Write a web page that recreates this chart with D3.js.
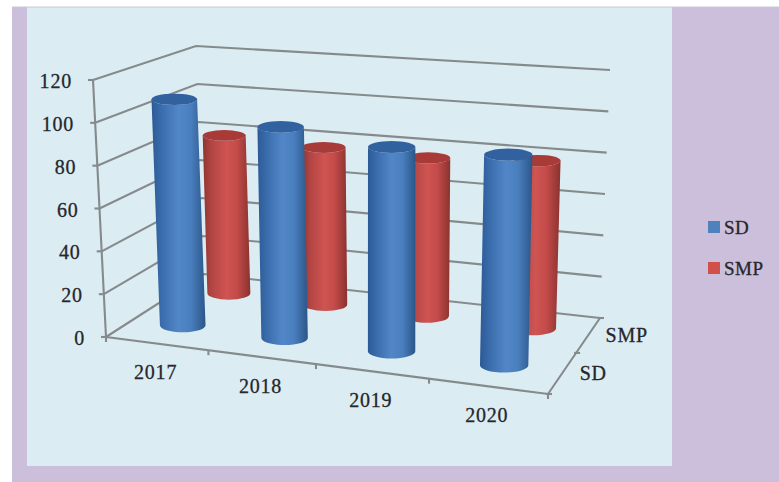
<!DOCTYPE html>
<html>
<head>
<meta charset="utf-8">
<script src="https://cdn.jsdelivr.net/npm/d3@7"></script>
<style>
  html, body { margin: 0; padding: 0; background: #ffffff; }
  svg { display: block; }
  text { font-family: "Liberation Serif", serif; fill: #26262b; stroke: #26262b; stroke-width: 0.3px; }
</style>
</head>
<body>
<svg id="chart" width="779" height="482"></svg>
<script>
// Chart values
const categories = ["2017", "2018", "2019", "2020"];
const seriesNames = ["SD", "SMP"];
const sdValues = [108, 99, 94, 95];
const smpValues = [80, 78, 77, 80];
const valueTicks = [0, 20, 40, 60, 80, 100, 120];

// Corners of the 3D plot box on screen
const box = {
  flb: [106, 337], flt: [93, 80],
  frb: [548, 394], frt: [555, 117],
  blb: [204, 274], blt: [196, 46],
  brb: [600, 318], brt: [610, 70]
};

// Foreshortening along the width and depth of the box
const foreshorten = k => t => t / (t + k * (1 - t));
const warpX = foreshorten(1.105);
const warpZ = foreshorten(0.85);

const valueScale = d3.scaleLinear().domain([0, 120]).range([0, 1]);
const categoryScale = d3.scaleBand().domain(categories).range([0, 1]);
const depthScale = d3.scaleBand().domain(seriesNames).range([0, 1]);

const mix = (a, b, t) => [a[0] + (b[0] - a[0]) * t, a[1] + (b[1] - a[1]) * t];

// Project box coordinates (width, depth, height, all 0..1) to the screen
function project(u, v, w) {
  const x = warpX(u), z = warpZ(v);
  const bottom = mix(mix(box.flb, box.frb, x), mix(box.blb, box.brb, x), z);
  const top = mix(mix(box.flt, box.frt, x), mix(box.blt, box.brt, x), z);
  return mix(bottom, top, w);
}

const svg = d3.select("#chart");

// Backgrounds
svg.append("rect").attr("x", 12).attr("y", 7).attr("width", 767).attr("height", 475).attr("fill", "#cbbfdb");
svg.append("rect").attr("x", 27).attr("y", 7).attr("width", 645).attr("height", 459).attr("fill", "#dbedf3");
svg.append("line").attr("x1", 12).attr("x2", 779).attr("y1", 7).attr("y2", 7).attr("stroke", "#c6cad6").attr("stroke-width", 1);

// Cylinder shading
const defs = svg.append("defs");
function addGradient(id, stops) {
  const g = defs.append("linearGradient").attr("id", id).attr("x1", 0).attr("x2", 1).attr("y1", 0).attr("y2", 0);
  stops.forEach(([o, c]) => g.append("stop").attr("offset", o).attr("stop-color", c));
}
addGradient("shade-SD", [[0, "#2b5a96"], [0.18, "#3a6cab"], [0.5, "#5187c8"], [0.72, "#4a7fbf"], [1, "#2b5688"]]);
addGradient("shade-SMP", [[0, "#8f3431"], [0.18, "#b24543"], [0.5, "#cf5452"], [0.72, "#c34b49"], [1, "#8a322f"]]);
const capColor = { SD: "#32619f", SMP: "#a83a38" };
const legendColor = { SD: "#4f81bd", SMP: "#d0504a" };

// Gridlines and axes
const gridColor = "#868a8c";
const grid = svg.append("g").attr("fill", "none").attr("stroke", gridColor).attr("stroke-width", 2.1);
const line = d3.line();

valueTicks.forEach(t => {
  const w = valueScale(t);
  grid.append("path").attr("d", line([project(0, 0, w), project(0, 1, w), project(1, 1, w)]));
  const p = project(0, 0, w);
  grid.append("path").attr("d", line([[p[0] - 5, p[1]], p]));
});

// Vertical value axis
grid.append("path").attr("d", line([project(0, 0, 0), project(0, 0, 1)]));

// Floor edges and their ticks
grid.append("path").attr("d", line([project(0, 0, 0), project(1, 0, 0), project(1, 1, 0)]));
d3.range(0, categories.length + 1).forEach(i => {
  const p = project(i / categories.length, 0, 0);
  grid.append("path").attr("d", line([p, [p[0], p[1] + 5]]));
});
d3.range(0, seriesNames.length + 1).forEach(i => {
  const p = project(1, i / seriesNames.length, 0);
  grid.append("path").attr("d", line([[p[0] - 2, p[1]], [p[0] + 4, p[1]]]));
});

// Vertical pixels per value unit at a floor position, used for the cylinder radius
function unitHeight(u, v) {
  return (project(u, v, 0)[1] - project(u, v, valueScale(1))[1]);
}

function drawCylinder(group, category, series, value) {
  const u = categoryScale(category) + categoryScale.bandwidth() / 2;
  const v = depthScale(series) + depthScale.bandwidth() / 2;
  const base = project(u, v, 0);
  const top = project(u, v, valueScale(value));
  const rx = unitHeight(u, v) * 10.9;
  const ryTop = rx * 0.25;
  const ryBase = rx * 0.3;
  const g = group.append("g");
  g.append("path")
    .attr("d", `M${top[0] - rx},${top[1]} L${base[0] - rx},${base[1]} ` +
               `A${rx},${ryBase} 0 0 0 ${base[0] + rx},${base[1]} L${top[0] + rx},${top[1]} ` +
               `A${rx},${ryTop} 0 0 1 ${top[0] - rx},${top[1]} Z`)
    .attr("fill", `url(#shade-${series})`);
  g.append("ellipse")
    .attr("cx", top[0]).attr("cy", top[1]).attr("rx", rx).attr("ry", ryTop)
    .attr("fill", capColor[series]);
}

// Rear row first so the front row overlaps it
const bars = svg.append("g");
categories.forEach((c, i) => drawCylinder(bars, c, "SMP", smpValues[i]));
categories.forEach((c, i) => drawCylinder(bars, c, "SD", sdValues[i]));

// Value labels
const labels = svg.append("g").attr("font-size", 20).attr("letter-spacing", 0.8);
labels.selectAll(".value-label").data(valueTicks).join("text")
  .attr("class", "value-label")
  .attr("text-anchor", "end")
  .attr("dominant-baseline", "central")
  .attr("x", d => project(0, 0, valueScale(d))[0] - 21)
  .attr("y", d => project(0, 0, valueScale(d))[1] + 1)
  .text(d => d);

// Year labels
labels.selectAll(".category-label").data(categories).join("text")
  .attr("class", "category-label")
  .attr("text-anchor", "middle")
  .attr("dominant-baseline", "central")
  .attr("x", d => project(categoryScale(d) + categoryScale.bandwidth() / 2, 0, 0)[0] - 1)
  .attr("y", d => project(categoryScale(d) + categoryScale.bandwidth() / 2, 0, 0)[1] + 28.5)
  .text(d => d);

// Depth labels
labels.selectAll(".series-label").data(seriesNames).join("text")
  .attr("class", "series-label")
  .attr("dominant-baseline", "central")
  .attr("x", d => project(1, depthScale(d) + depthScale.bandwidth() / 2, 0)[0] + 17)
  .attr("y", d => project(1, depthScale(d) + depthScale.bandwidth() / 2, 0)[1])
  .text(d => d);

// Legend
const legendY = d3.scalePoint().domain(seriesNames).range([227, 268]);
const legend = svg.append("g").selectAll("g").data(seriesNames).join("g")
  .attr("transform", d => `translate(708,${legendY(d)})`);
legend.append("rect").attr("x", 0).attr("y", -6).attr("width", 12).attr("height", 12).attr("fill", d => legendColor[d]);
legend.append("text").attr("x", 16).attr("dominant-baseline", "central").attr("font-size", 19).attr("letter-spacing", 0.5).text(d => d);
</script>
</body>
</html>
